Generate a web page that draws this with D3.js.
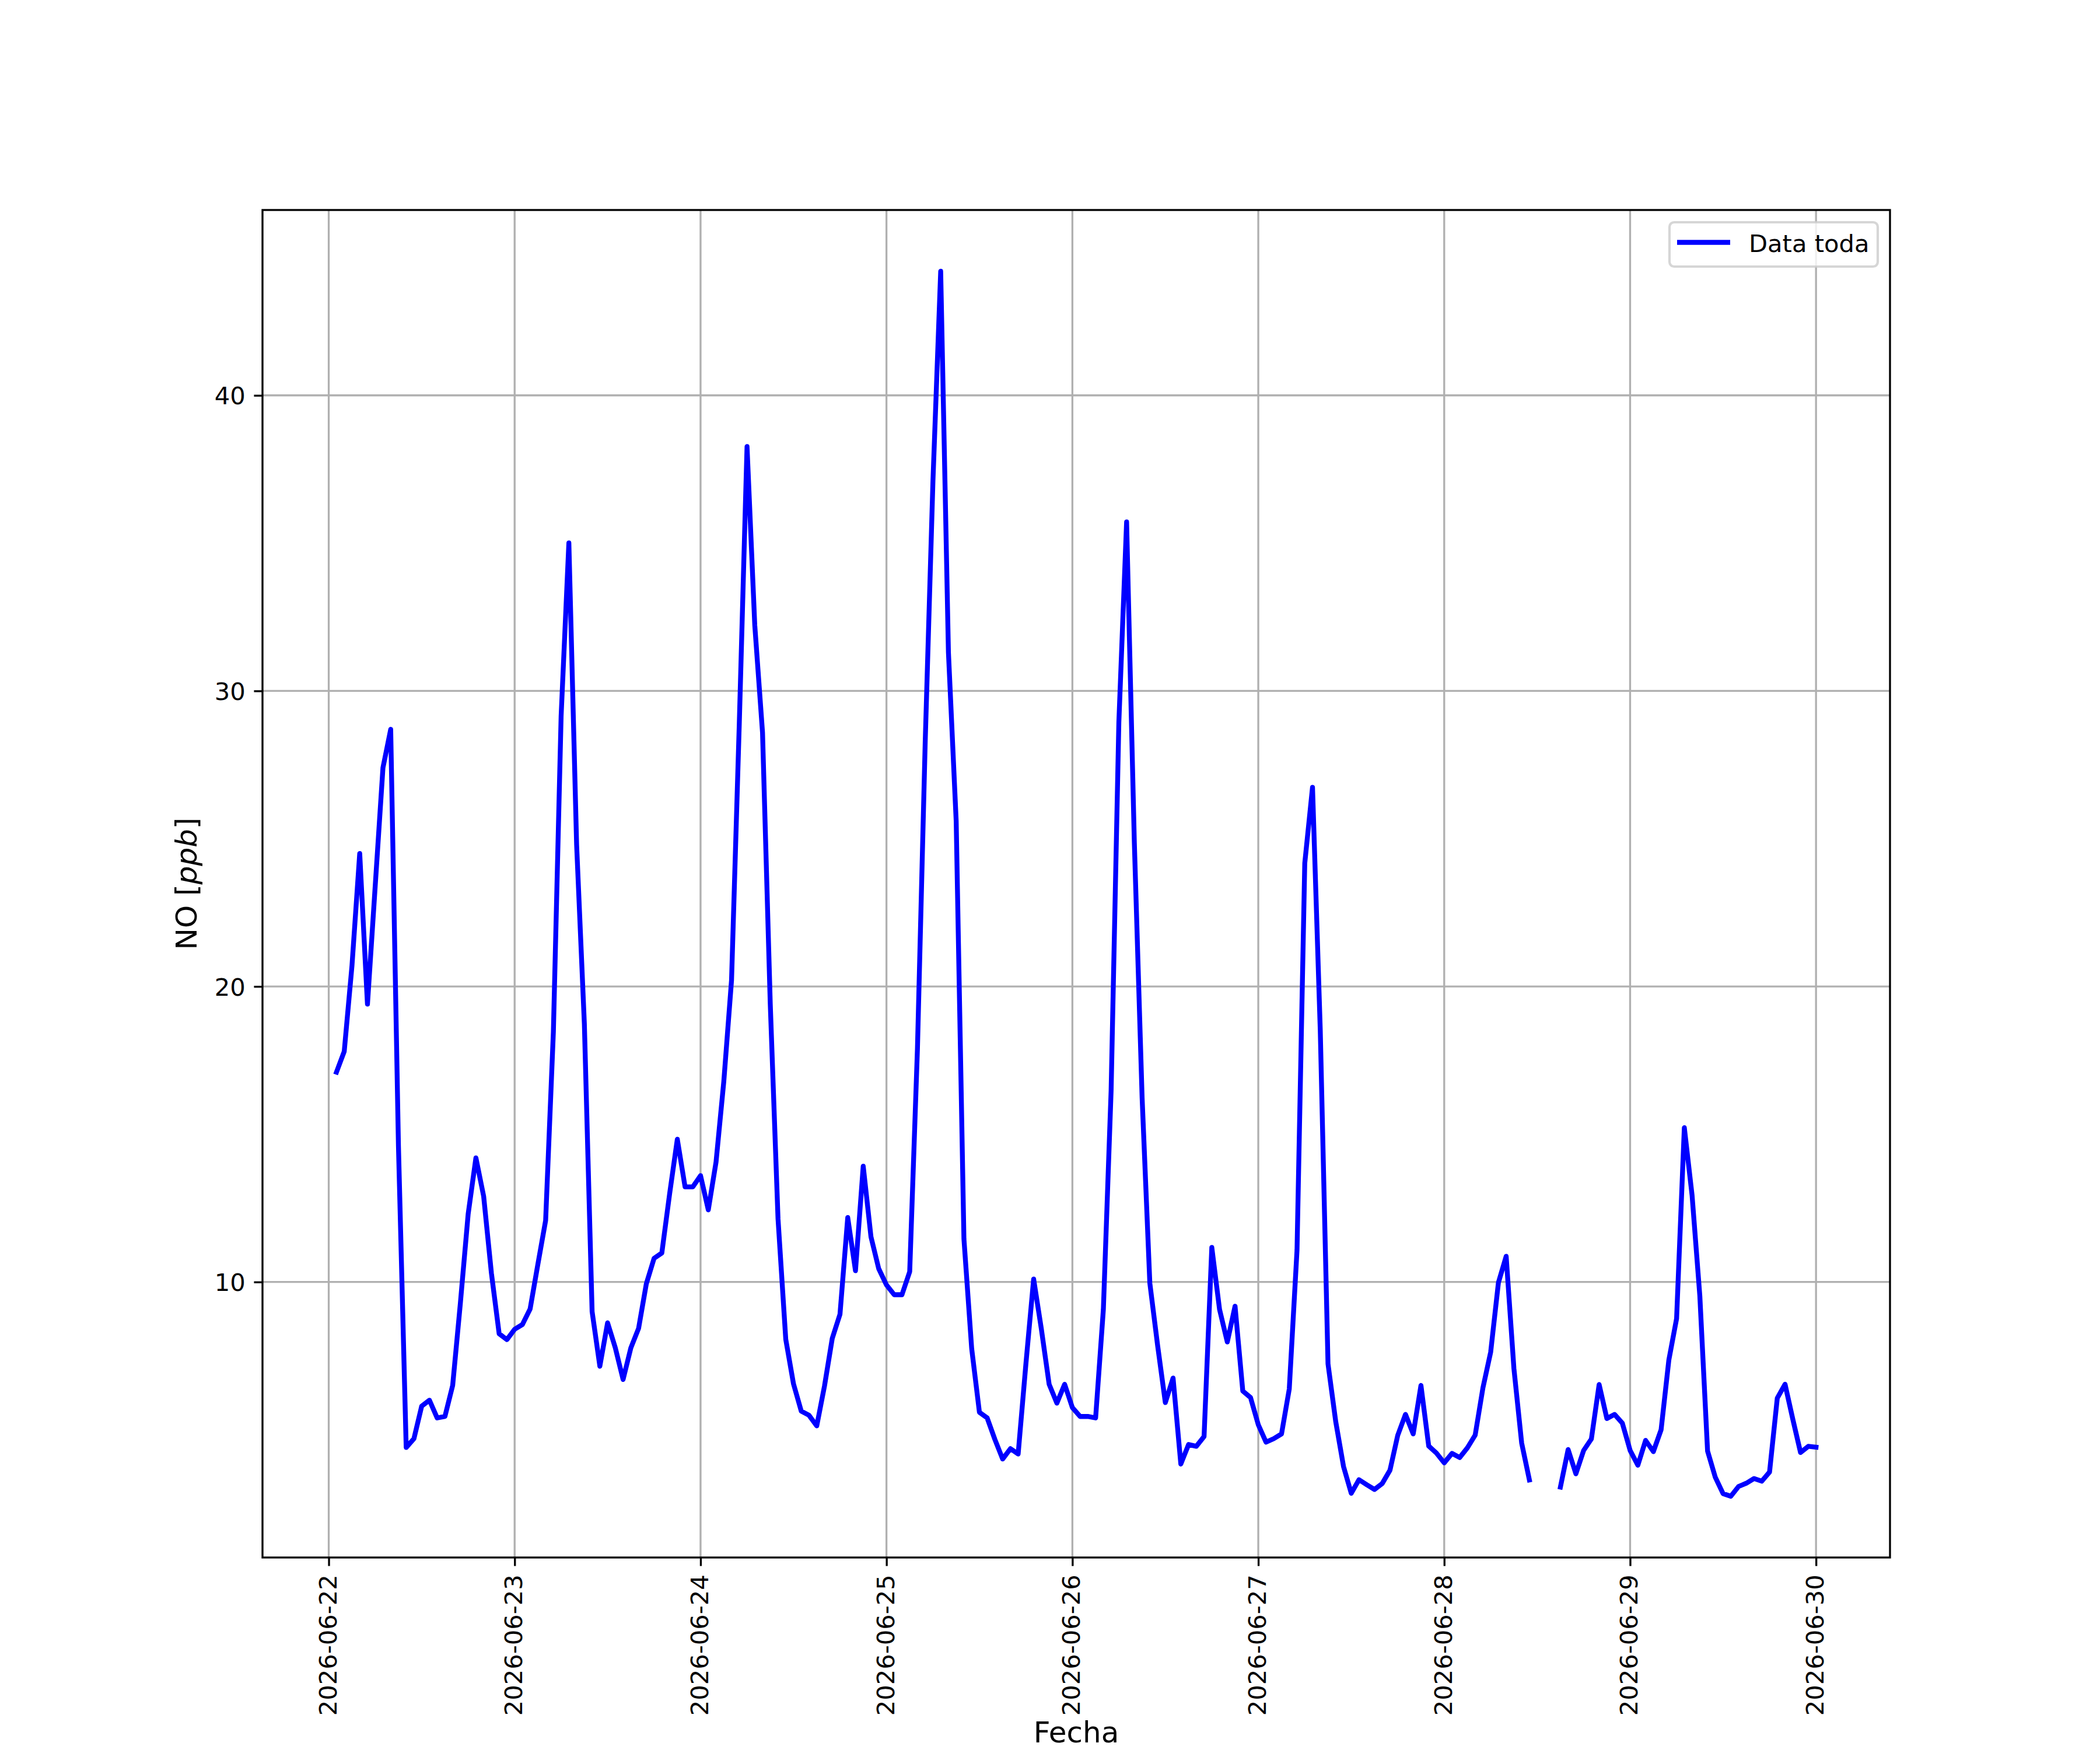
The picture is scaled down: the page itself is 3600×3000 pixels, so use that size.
<!DOCTYPE html>
<html>
<head>
<meta charset="utf-8">
<script src="https://cdn.jsdelivr.net/npm/d3@7"></script>
<style>
  body { margin: 0; background: #fff; }
</style>
</head>
<body>
<div id="grafico"></div>
<script>
// datos horarios de NO [ppb], una lista por dia (01:00 ... 24:00)
const inicio = "2026-06-22T01:00:00Z";

const no22 = [17.1, 17.8, 20.7, 24.5, 19.4, 23.4, 27.4, 28.7, 14.6, 4.4, 4.7, 5.8,
              6.0, 5.4, 5.45, 6.5, 9.3, 12.3, 14.2, 12.9, 10.3, 8.25, 8.05, 8.4];
const no23 = [8.56, 9.09, 10.6, 12.08, 18.46, 29.15, 35.01, 24.8, 18.74, 9.0, 7.15, 8.62,
              7.77, 6.7, 7.77, 8.43, 9.94, 10.8, 10.98, 12.97, 14.83, 13.22, 13.22, 13.6];
const no24 = [12.44, 14.06, 16.78, 20.21, 28.89, 38.27, 32.22, 28.59, 19.4, 12.14, 8.06, 6.55,
              5.63, 5.49, 5.13, 6.48, 8.09, 8.91, 12.18, 10.38, 13.92, 11.53, 10.45, 9.9];
const no25 = [9.57, 9.57, 10.35, 17.9, 28.26, 37.1, 44.2, 31.3, 25.6, 11.46, 7.75, 5.59,
              5.4, 4.67, 4.01, 4.36, 4.18, 7.23, 10.1, 8.4, 6.54, 5.9, 6.54, 5.75];
const no26 = [5.45, 5.45, 5.4, 9.07, 16.47, 28.94, 35.72, 24.86, 16.25, 9.96, 7.86, 5.92,
              6.75, 3.84, 4.5, 4.44, 4.77, 11.17, 9.07, 7.97, 9.18, 6.31, 6.09, 5.17];
const no27 = [4.58, 4.7, 4.86, 6.38, 11.08, 24.17, 26.74, 18.53, 7.23, 5.27, 3.76, 2.85,
              3.31, 3.14, 2.98, 3.18, 3.63, 4.81, 5.52, 4.86, 6.5, 4.45, 4.21, 3.88];
const no28 = [4.2, 4.06, 4.39, 4.82, 6.42, 7.63, 9.98, 10.87, 7.07, 4.55, 3.3, null,
              null, null, 3.06, 4.33, 3.51, 4.3, 4.69, 6.53, 5.38, 5.52, 5.22, 4.3];
const no29 = [3.8, 4.64, 4.26, 5.0, 7.36, 8.76, 15.22, 12.93, 9.53, 4.28, 3.39, 2.84,
              2.75, 3.08, 3.19, 3.35, 3.26, 3.57, 6.07, 6.54, 5.36, 4.23, 4.44, 4.41];

const diasTicks = ["2026-06-22", "2026-06-23", "2026-06-24", "2026-06-25", "2026-06-26",
                   "2026-06-27", "2026-06-28", "2026-06-29", "2026-06-30"];
const ticksY = [10, 20, 30, 40];
const nombreSerie = "Data toda";

const pt = 300 / 72;
const W = 3600, H = 3000;
const izq = 450, der = 3240, arriba = 360, abajo = 2670;
const fuente = "DejaVu Sans";
const fs = 10 * pt;
const fsLab = 12 * pt;

const t0 = d3.utcParse("%Y-%m-%dT%H:%M:%SZ")(inicio);
const valores = [].concat(no22, no23, no24, no25, no26, no27, no28, no29);
const datos = valores.map((v, i) => ({ t: d3.utcHour.offset(t0, i), v: v }));
const dias = diasTicks.map(d3.utcParse("%Y-%m-%d"));

// margenes automaticos del 5% como matplotlib
const ext = d3.extent(datos, d => d.t);
const spanT = ext[1] - ext[0];
const x = d3.scaleUtc()
    .domain([new Date(+ext[0] - 0.05 * spanT), new Date(+ext[1] + 0.05 * spanT)])
    .range([izq, der]);

const extV = d3.extent(datos.filter(d => d.v != null), d => d.v);
const spanV = extV[1] - extV[0];
const y = d3.scaleLinear()
    .domain([extV[0] - 0.05 * spanV, extV[1] + 0.05 * spanV])
    .range([abajo, arriba]);

const svg = d3.select("#grafico")
    .append("svg")
    .attr("width", W)
    .attr("height", H)
    .style("display", "block")
    .style("font-family", fuente);

svg.append("rect").attr("width", W).attr("height", H).attr("fill", "#fff");

// grilla
const grilla = svg.append("g").attr("stroke", "#b0b0b0").attr("stroke-width", 0.8 * pt);
grilla.selectAll("line.gx")
    .data(dias)
    .join("line")
    .attr("class", "gx")
    .attr("x1", d => x(d)).attr("x2", d => x(d))
    .attr("y1", arriba).attr("y2", abajo);
grilla.selectAll("line.gy")
    .data(ticksY)
    .join("line")
    .attr("class", "gy")
    .attr("x1", izq).attr("x2", der)
    .attr("y1", d => y(d)).attr("y2", d => y(d));

// serie
const linea = d3.line()
    .defined(d => d.v != null)
    .x(d => x(d.t))
    .y(d => y(d.v));

svg.append("path")
    .datum(datos)
    .attr("fill", "none")
    .attr("stroke", "#0000ff")
    .attr("stroke-width", 2 * pt)
    .attr("stroke-linejoin", "round")
    .attr("stroke-linecap", "square")
    .attr("d", linea);

// ejes
const ejeX = svg.append("g")
    .attr("transform", `translate(0,${abajo})`)
    .call(d3.axisBottom(x)
        .tickValues(dias)
        .tickSize(3.5 * pt)
        .tickPadding(3.5 * pt)
        .tickFormat(d3.utcFormat("%Y-%m-%d")));
ejeX.select(".domain").remove();
ejeX.selectAll(".tick line").attr("stroke", "#000").attr("stroke-width", 0.8 * pt);
ejeX.selectAll(".tick text")
    .attr("font-family", fuente)
    .attr("font-size", fs)
    .attr("fill", "#000")
    .attr("x", 0)
    .attr("y", 0)
    .attr("dy", "0.3em")
    .attr("text-anchor", "end")
    .attr("transform", `translate(0,${7 * pt}) rotate(-90)`);

const ejeY = svg.append("g")
    .attr("transform", `translate(${izq},0)`)
    .call(d3.axisLeft(y)
        .tickValues(ticksY)
        .tickSize(3.5 * pt)
        .tickPadding(3.5 * pt));
ejeY.select(".domain").remove();
ejeY.selectAll(".tick line").attr("stroke", "#000").attr("stroke-width", 0.8 * pt);
ejeY.selectAll(".tick text")
    .attr("font-family", fuente)
    .attr("font-size", fs)
    .attr("fill", "#000")
    .attr("dy", "0.36em");

// marco
svg.append("rect")
    .attr("x", izq).attr("y", arriba)
    .attr("width", der - izq).attr("height", abajo - arriba)
    .attr("fill", "none")
    .attr("stroke", "#000")
    .attr("stroke-width", 0.8 * pt);

// titulos de ejes
svg.append("text")
    .attr("x", (izq + der) / 2)
    .attr("y", 2987)
    .attr("text-anchor", "middle")
    .attr("font-size", fsLab)
    .text("Fecha");

const ylab = svg.append("text")
    .attr("transform", `translate(337,${(arriba + abajo) / 2}) rotate(-90)`)
    .attr("text-anchor", "middle")
    .attr("font-size", fsLab);
ylab.append("tspan").text("NO [");
ylab.append("tspan").attr("font-style", "italic").text("ppb");
ylab.append("tspan").text("]");

// leyenda
const ley = svg.append("g");
ley.append("rect")
    .attr("x", 2862).attr("y", 381)
    .attr("width", 357).attr("height", 76)
    .attr("rx", 8).attr("ry", 8)
    .attr("fill", "#fff").attr("fill-opacity", 0.8)
    .attr("stroke", "#cccccc").attr("stroke-opacity", 0.8)
    .attr("stroke-width", 1 * pt);
ley.append("line")
    .attr("x1", 2875).attr("x2", 2966)
    .attr("y1", 415.5).attr("y2", 415.5)
    .attr("stroke", "#0000ff")
    .attr("stroke-width", 2 * pt);
ley.append("text")
    .attr("x", 2998).attr("y", 431.5)
    .attr("font-size", fs)
    .text(nombreSerie);
</script>
</body>
</html>
